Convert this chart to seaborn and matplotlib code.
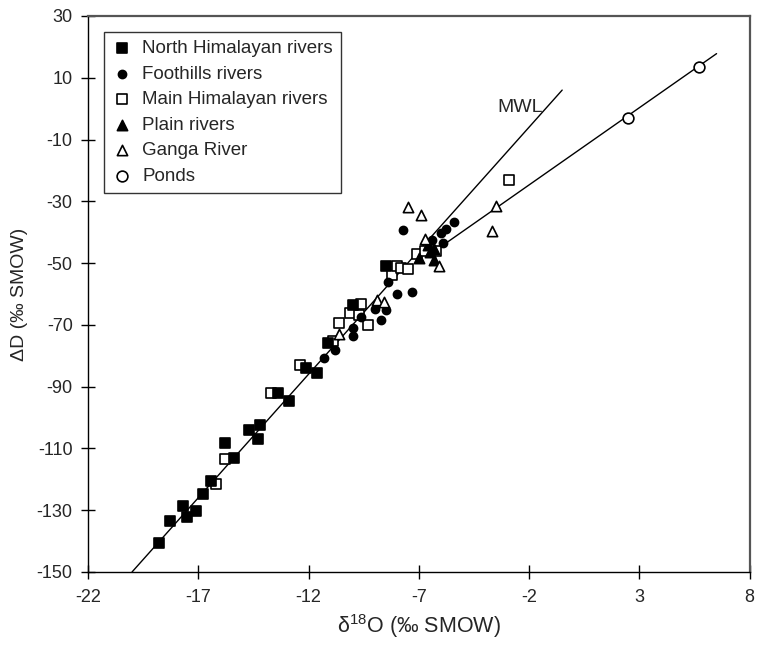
import numpy as np
import pandas as pd
import matplotlib
matplotlib.use("Agg")
import matplotlib.pyplot as plt
import seaborn as sns

# North Himalayan rivers (filled squares)
nh_x = [-18.8, -18.3, -17.7, -17.5, -17.1, -16.8, -16.4, -15.8, -15.4, -14.7, -14.2,
        -14.3, -13.4, -12.9, -12.1, -11.6, -11.1, -10.0, -8.5]
nh_y = [-140.6, -133.4, -128.7, -132.2, -130.3, -124.6, -120.4, -108.2, -113.2, -103.9,
        -102.3, -106.9, -91.9, -94.5, -84.0, -85.5, -75.9, -63.5, -50.8]

# Foothills rivers (filled circles)
fh_x = [-11.3, -10.8, -10.0, -10.0, -9.6, -9.0, -8.7, -8.5, -8.0, -7.3, -8.4,
        -7.7, -6.4, -6.0, -5.4, -5.9, -5.75]
fh_y = [-80.6, -78.0, -73.5, -70.9, -67.5, -64.8, -68.4, -65.3, -60.0, -59.3, -56.1,
        -39.2, -42.5, -40.4, -36.6, -43.5, -39.0]

# Main Himalayan rivers (open squares)
mh_x = [-16.2, -15.8, -13.7, -12.4, -10.9, -10.6, -10.1, -9.7, -9.6, -9.3, -8.2,
        -8.0, -7.8, -7.5, -7.1, -6.7, -6.2, -2.9]
mh_y = [-121.5, -113.3, -91.9, -83.1, -75.3, -69.4, -66.2, -66.9, -63.4, -69.9, -53.7,
        -51.1, -51.5, -51.9, -47.0, -46.2, -46.0, -23.0]

# Plain rivers (filled triangles)
pr_x = [-7.0, -6.5, -6.3, -6.3, -6.6]
pr_y = [-48.5, -46.5, -45.5, -49.0, -44.0]

# Ganga River (open triangles)
gr_x = [-10.6, -8.9, -8.6, -7.5, -6.9, -6.7, -6.1, -3.5, -3.7]
gr_y = [-73.1, -62.1, -62.7, -31.7, -34.4, -42.2, -51.0, -31.4, -39.5]

# Ponds (open circles)
po_x = [2.5, 5.7]
po_y = [-2.9, 13.5]

# lines: MWL (dD = 8 d18O + 10) and evaporation line
mwl_x = np.array([-20.0, -0.5])
mwl_y = 8 * mwl_x + 10
evap_x = np.array([-5.7, 6.5])
evap_y = 5.0 * evap_x - 14.7

sns.set_style("ticks")
plt.rcParams["font.family"] = ["Liberation Sans", "DejaVu Sans"]
plt.rcParams["mathtext.fontset"] = "custom"
plt.rcParams["mathtext.rm"] = "Liberation Sans"
plt.rcParams["mathtext.it"] = "Liberation Sans:italic"
plt.rcParams["axes.unicode_minus"] = False

fig = plt.figure(figsize=(7.58, 6.46), dpi=100)
ax = fig.add_axes([0.116, 0.1146, 0.873, 0.8607])

sns.lineplot(x=mwl_x, y=mwl_y, color="black", linewidth=1.0, ax=ax)
sns.lineplot(x=evap_x, y=evap_y, color="black", linewidth=1.0, ax=ax)

groups = [
    ("Main Himalayan rivers", mh_x, mh_y, "s", "white", 48),
    ("North Himalayan rivers", nh_x, nh_y, "s", "black", 48),
    ("Foothills rivers", fh_x, fh_y, "o", "black", 34),
    ("Plain rivers", pr_x, pr_y, "^", "black", 55),
    ("Ganga River", gr_x, gr_y, "^", "white", 55),
    ("Ponds", po_x, po_y, "o", "white", 60),
]
for name, xs, ys, mk, fc, sz in groups:
    df = pd.DataFrame({"x": xs, "y": ys})
    sns.scatterplot(data=df, x="x", y="y", marker=mk, color=fc, edgecolor="black",
                    linewidth=1.2, s=sz, label=name, ax=ax, zorder=3)

ax.text(-3.42, 0.3, "MWL", fontsize=14, ha="left", va="center")

ax.set_xlim(-22, 8)
ax.set_ylim(-150, 30)
ax.set_xticks(np.arange(-22, 9, 5))
ax.set_yticks(np.arange(-150, 31, 20))
ax.tick_params(direction="inout", length=10, width=1, labelsize=13, color="black")
ax.tick_params(axis="x", pad=7)
ax.tick_params(axis="y", pad=6)
ax.set_xlabel(r"δ$^{\mathrm{18}}$O (‰ SMOW)", fontsize=15.5, labelpad=5)
ax.set_ylabel("ΔD (‰ SMOW)", fontsize=14, labelpad=6)

for side in ["left", "bottom"]:
    ax.spines[side].set_color("black")
    ax.spines[side].set_linewidth(1.0)
for side in ["top", "right"]:
    ax.spines[side].set_color("#555555")
    ax.spines[side].set_linewidth(1.6)

handles, labels = ax.get_legend_handles_labels()
order = ["North Himalayan rivers", "Foothills rivers", "Main Himalayan rivers",
         "Plain rivers", "Ganga River", "Ponds"]
hmap = dict(zip(labels, handles))
leg = ax.legend([hmap[k] for k in order], order, loc="upper left",
                bbox_to_anchor=(0.024, 0.972), borderaxespad=0, fontsize=13.5,
                frameon=True, fancybox=False, edgecolor="black", handlelength=1.0,
                handletextpad=0.6, labelspacing=0.45, borderpad=0.45)
leg.get_frame().set_linewidth(1.0)

fig.savefig("out.png", dpi=100)
